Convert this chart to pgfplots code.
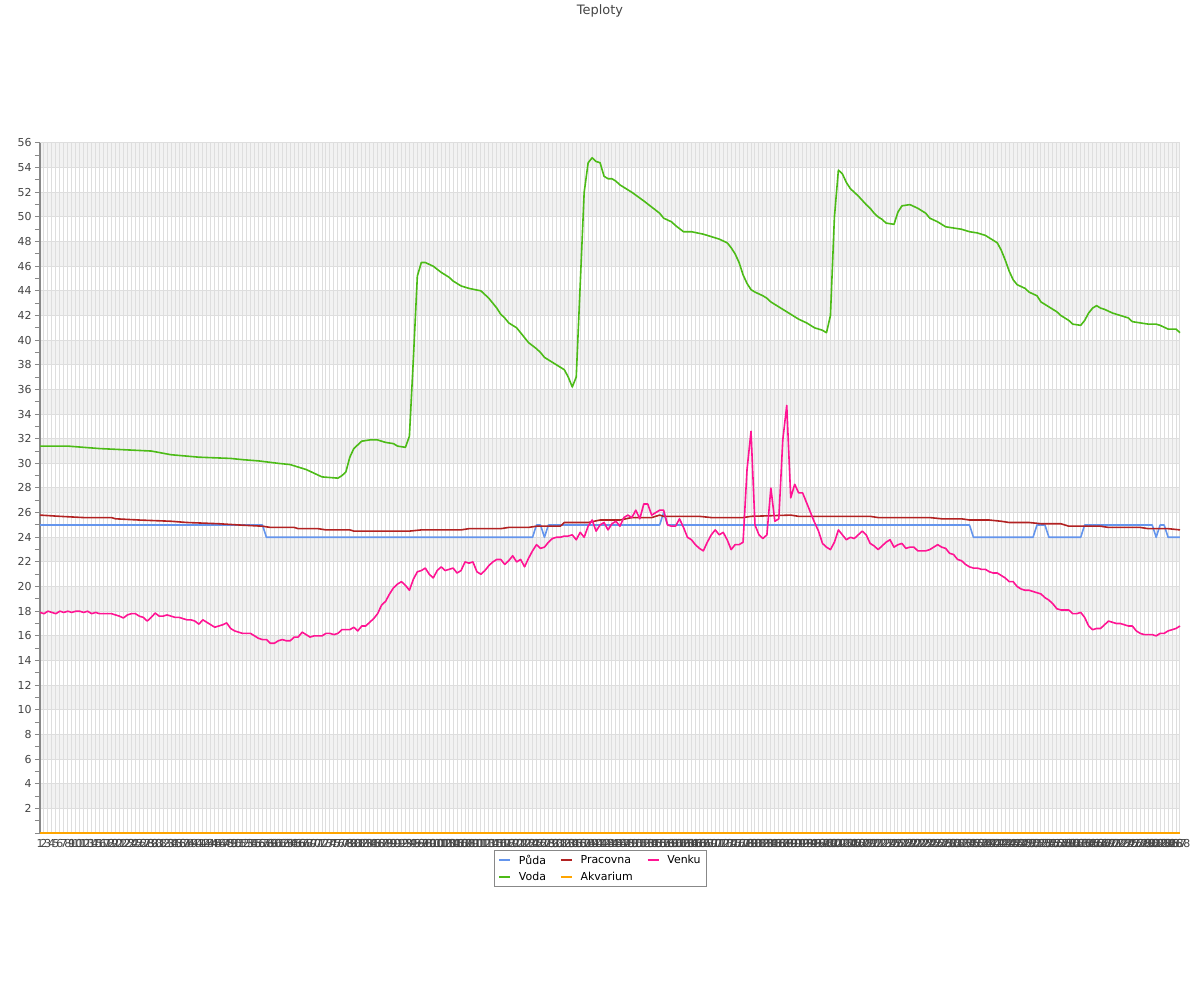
\documentclass[border=0pt]{standalone}
\usepackage{fontspec}
\setmainfont{DejaVu Sans}
\usepackage{pgfplots}
\pgfplotsset{compat=1.18}
\definecolor{puda}{RGB}{100,149,237}
\definecolor{pracovna}{RGB}{178,34,34}
\definecolor{venku}{RGB}{255,20,147}
\definecolor{voda}{RGB}{76,187,23}
\definecolor{akvarium}{RGB}{255,165,0}
\definecolor{txt}{RGB}{68,68,68}
\definecolor{band}{RGB}{242,242,242}
\definecolor{gridc}{RGB}{222,222,222}
\definecolor{axc}{RGB}{136,136,136}
\begin{document}
\begin{tikzpicture}
\path[use as bounding box] (-40bp,-167bp) rectangle (1160bp,833bp);
% background bands
\begin{axis}[
  at={(0,0)}, anchor=south west,
  scale only axis,
  width=1140bp, height=690bp,
  xmin=1, xmax=288, ymin=0, ymax=56,
  hide axis,
]
\fill[band] (axis cs:1,2) rectangle (axis cs:288,4);
\fill[band] (axis cs:1,6) rectangle (axis cs:288,8);
\fill[band] (axis cs:1,10) rectangle (axis cs:288,12);
\fill[band] (axis cs:1,14) rectangle (axis cs:288,16);
\fill[band] (axis cs:1,18) rectangle (axis cs:288,20);
\fill[band] (axis cs:1,22) rectangle (axis cs:288,24);
\fill[band] (axis cs:1,26) rectangle (axis cs:288,28);
\fill[band] (axis cs:1,30) rectangle (axis cs:288,32);
\fill[band] (axis cs:1,34) rectangle (axis cs:288,36);
\fill[band] (axis cs:1,38) rectangle (axis cs:288,40);
\fill[band] (axis cs:1,42) rectangle (axis cs:288,44);
\fill[band] (axis cs:1,46) rectangle (axis cs:288,48);
\fill[band] (axis cs:1,50) rectangle (axis cs:288,52);
\fill[band] (axis cs:1,54) rectangle (axis cs:288,56);
\end{axis}
\begin{axis}[
  at={(0,0)}, anchor=south west,
  scale only axis,
  width=1140bp, height=690bp,
  xmin=1, xmax=288, ymin=0, ymax=56,
  clip=false,
  axis lines*=left,
  axis line style={-, draw=axc, line width=1.2bp},
  xtick={1,...,288},
  xticklabel={\pgfmathtruncatemacro\lbl{round(\tick)}\lbl},
  xticklabel style={font=\fontsize{11}{13}\selectfont, text=txt, inner sep=1bp},
  xtick style={draw=none},
  ytick={0,2,...,56},
  yticklabels={,2,4,6,8,10,12,14,16,18,20,22,24,26,28,30,32,34,36,38,40,42,44,46,48,50,52,54,56},
  yticklabel style={font=\fontsize{11}{13}\selectfont, text=txt},
  minor y tick num=1,
  ytick style={draw=axc, line width=1bp},
  major tick length=5bp, minor tick length=5bp,
  tick align=outside,
  xmajorgrids, ymajorgrids,
  grid style={gridc, line width=1bp},
  every axis plot/.append style={line width=1.6bp, line join=round},
  legend columns=3,
  legend cell align=left,
  legend image code/.code={\draw[#1] (0bp,0bp) -- (11bp,0bp);},
  legend style={at={(0.4917,-0.0246)}, anchor=north, draw=axc, line width=0.8bp,
    font=\fontsize{11}{13}\selectfont, text=black, inner xsep=4bp, inner ysep=2.5bp,
    row sep=2.5bp,
    /tikz/every odd column/.append style={column sep=6bp},
    /tikz/every even column/.append style={column sep=12bp}},
]
% Puda
\addplot[puda] coordinates {(1,25)(57,25)(58,24)(125,24)(126,25)(127,25)(128,24)(129,25)(157,25)(158,26)(159,25)(235,25)(236,24)(251,24)(252,25)(254,25)(255,24)(263,24)(264,25)(281,25)(282,24)(283,25)(284,25)(285,24)(288,24)};
\addlegendentry{Půda}
% Pracovna
\addplot[pracovna] coordinates {(1,25.8)(6,25.7)(12,25.6)(19,25.6)(20,25.5)(26,25.4)(34,25.3)(38,25.2)(46,25.1)(51,25.0)(57,24.9)(59,24.8)(65,24.8)(66,24.7)(71,24.7)(73,24.6)(79,24.6)(80,24.5)(94,24.5)(97,24.6)(107,24.6)(109,24.7)(117,24.7)(119,24.8)(124,24.8)(126,24.9)(132,24.9)(133,25.2)(139,25.2)(142,25.4)(147,25.4)(150,25.6)(155,25.6)(157,25.8)(158,25.7)(167,25.7)(170,25.6)(178,25.6)(180,25.7)(190,25.8)(192,25.7)(210,25.7)(212,25.6)(225,25.6)(228,25.5)(233,25.5)(235,25.4)(240,25.4)(243,25.3)(245,25.2)(250,25.2)(253,25.1)(258,25.1)(260,24.9)(268,24.9)(270,24.8)(278,24.8)(280,24.7)(285,24.7)(288,24.6)};
\addlegendentry{Pracovna}
% Venku
\addplot[venku] coordinates {(1,17.9)(2,17.8)(3,18.0)(4,17.9)(5,17.8)(6,18.0)(7,17.9)(8,18.0)(9,17.9)(10,18.0)(11,18.0)(12,17.9)(13,18.0)(14,17.8)(15,17.9)(16,17.8)(17,17.8)(18,17.8)(19,17.8)(20,17.7)(21,17.6)(22,17.45)(23,17.7)(24,17.8)(25,17.8)(26,17.6)(27,17.5)(28,17.2)(29,17.5)(30,17.85)(31,17.6)(32,17.6)(33,17.7)(34,17.6)(35,17.5)(36,17.5)(37,17.4)(38,17.3)(39,17.3)(40,17.2)(41,16.95)(42,17.3)(43,17.1)(44,16.9)(45,16.7)(46,16.8)(47,16.9)(48,17.05)(49,16.6)(50,16.4)(51,16.3)(52,16.2)(53,16.2)(54,16.2)(55,16.0)(56,15.8)(57,15.7)(58,15.7)(59,15.4)(60,15.4)(61,15.6)(62,15.7)(63,15.6)(64,15.6)(65,15.9)(66,15.9)(67,16.3)(68,16.1)(69,15.9)(70,16.0)(71,16.0)(72,16.0)(73,16.2)(74,16.2)(75,16.1)(76,16.2)(77,16.5)(78,16.5)(79,16.5)(80,16.7)(81,16.4)(82,16.8)(83,16.8)(84,17.1)(85,17.4)(86,17.8)(87,18.5)(88,18.8)(89,19.4)(90,19.9)(91,20.2)(92,20.4)(93,20.1)(94,19.7)(95,20.6)(96,21.2)(97,21.3)(98,21.5)(99,21.0)(100,20.7)(101,21.3)(102,21.6)(103,21.3)(104,21.4)(105,21.5)(106,21.1)(107,21.3)(108,22.0)(109,21.9)(110,22.0)(111,21.2)(112,21.0)(113,21.3)(114,21.7)(115,22.0)(116,22.2)(117,22.2)(118,21.8)(119,22.1)(120,22.5)(121,22.0)(122,22.2)(123,21.6)(124,22.3)(125,22.9)(126,23.4)(127,23.1)(128,23.2)(129,23.6)(130,23.9)(131,24.0)(132,24.0)(133,24.1)(134,24.1)(135,24.2)(136,23.8)(137,24.4)(138,24.0)(139,24.9)(140,25.4)(141,24.5)(142,25.0)(143,25.2)(144,24.6)(145,25.1)(146,25.3)(147,24.9)(148,25.6)(149,25.8)(150,25.6)(151,26.2)(152,25.5)(153,26.7)(154,26.7)(155,25.8)(156,26.0)(157,26.2)(158,26.2)(159,25.0)(160,24.9)(161,24.9)(162,25.5)(163,24.8)(164,24.0)(165,23.8)(166,23.4)(167,23.1)(168,22.9)(169,23.6)(170,24.2)(171,24.6)(172,24.2)(173,24.4)(174,23.8)(175,23.0)(176,23.4)(177,23.4)(178,23.6)(179,29.5)(180,32.6)(181,25.0)(182,24.2)(183,23.9)(184,24.2)(185,28.0)(186,25.3)(187,25.5)(188,31.9)(189,34.7)(190,27.2)(191,28.3)(192,27.6)(193,27.6)(194,26.8)(195,26.0)(196,25.2)(197,24.5)(198,23.5)(199,23.2)(200,23.0)(201,23.6)(202,24.6)(203,24.2)(204,23.8)(205,24.0)(206,23.9)(207,24.2)(208,24.5)(209,24.2)(210,23.5)(211,23.3)(212,23.0)(213,23.3)(214,23.6)(215,23.8)(216,23.2)(217,23.4)(218,23.5)(219,23.1)(220,23.2)(221,23.2)(222,22.9)(223,22.9)(224,22.9)(225,23.0)(226,23.2)(227,23.4)(228,23.2)(229,23.1)(230,22.7)(231,22.6)(232,22.2)(233,22.1)(234,21.8)(235,21.6)(236,21.5)(237,21.5)(238,21.4)(239,21.4)(240,21.2)(241,21.1)(242,21.1)(243,20.9)(244,20.7)(245,20.4)(246,20.4)(247,20.0)(248,19.8)(249,19.7)(250,19.7)(251,19.6)(252,19.5)(253,19.4)(254,19.1)(255,18.9)(256,18.6)(257,18.2)(258,18.1)(259,18.1)(260,18.1)(261,17.8)(262,17.8)(263,17.9)(264,17.5)(265,16.8)(266,16.5)(267,16.6)(268,16.6)(269,16.9)(270,17.2)(271,17.1)(272,17.0)(273,17.0)(274,16.9)(275,16.8)(276,16.8)(277,16.4)(278,16.2)(279,16.1)(280,16.1)(281,16.1)(282,16.0)(283,16.2)(284,16.2)(285,16.4)(286,16.5)(287,16.6)(288,16.8)};
\addlegendentry{Venku}
% Voda
\addplot[voda] coordinates {(1,31.4)(8,31.4)(16,31.2)(29,31.0)(34,30.7)(41,30.5)(49,30.4)(52,30.3)(56,30.2)(61,30.0)(64,29.9)(66,29.7)(68,29.5)(70,29.2)(72,28.9)(76,28.8)(77,29.0)(78,29.3)(79,30.5)(80,31.2)(82,31.8)(84,31.9)(86,31.9)(88,31.7)(90,31.6)(91,31.4)(93,31.3)(94,32.2)(95,38.5)(96,45.2)(97,46.3)(98,46.3)(100,46.0)(102,45.5)(104,45.1)(105,44.8)(107,44.4)(109,44.2)(112,44.0)(114,43.4)(116,42.6)(117,42.1)(118,41.8)(119,41.4)(121,41.0)(122,40.6)(123,40.2)(124,39.8)(126,39.3)(127,39.0)(128,38.6)(130,38.2)(131,38.0)(133,37.6)(134,37.0)(135,36.2)(136,37.0)(138,52.0)(139,54.4)(140,54.8)(141,54.5)(142,54.4)(143,53.3)(144,53.1)(145,53.1)(146,52.9)(147,52.6)(148,52.4)(150,52.0)(153,51.3)(155,50.8)(157,50.3)(158,49.9)(160,49.6)(161,49.3)(163,48.8)(165,48.8)(168,48.6)(170,48.4)(172,48.2)(174,47.9)(175,47.5)(176,47.0)(177,46.3)(178,45.3)(179,44.6)(180,44.1)(181,43.9)(183,43.6)(184,43.4)(185,43.1)(187,42.7)(189,42.3)(191,41.9)(192,41.7)(194,41.4)(196,41.0)(198,40.8)(199,40.6)(200,42.0)(201,50.0)(202,53.8)(203,53.5)(204,52.8)(205,52.3)(207,51.7)(209,51.0)(210,50.7)(211,50.3)(212,50.0)(213,49.8)(214,49.5)(216,49.4)(217,50.4)(218,50.9)(220,51.0)(222,50.7)(224,50.3)(225,49.9)(227,49.6)(229,49.2)(231,49.1)(233,49.0)(235,48.8)(237,48.7)(239,48.5)(240,48.3)(242,47.9)(243,47.3)(244,46.5)(245,45.6)(246,44.9)(247,44.5)(249,44.2)(250,43.9)(252,43.6)(253,43.1)(255,42.7)(257,42.3)(258,42.0)(260,41.6)(261,41.3)(263,41.2)(264,41.6)(265,42.2)(266,42.6)(267,42.8)(268,42.6)(269,42.5)(271,42.2)(273,42.0)(275,41.8)(276,41.5)(278,41.4)(280,41.3)(282,41.3)(283,41.2)(285,40.9)(287,40.9)(288,40.6)};
\addlegendentry{Voda}
% Akvarium
\addplot[akvarium] coordinates {(1,0)(288,0)};
\addlegendentry{Akvarium}
\end{axis}
\node[text=txt, font=\fontsize{13}{15}\selectfont] at (560bp,822bp) {Teploty};
\end{tikzpicture}
\end{document}
